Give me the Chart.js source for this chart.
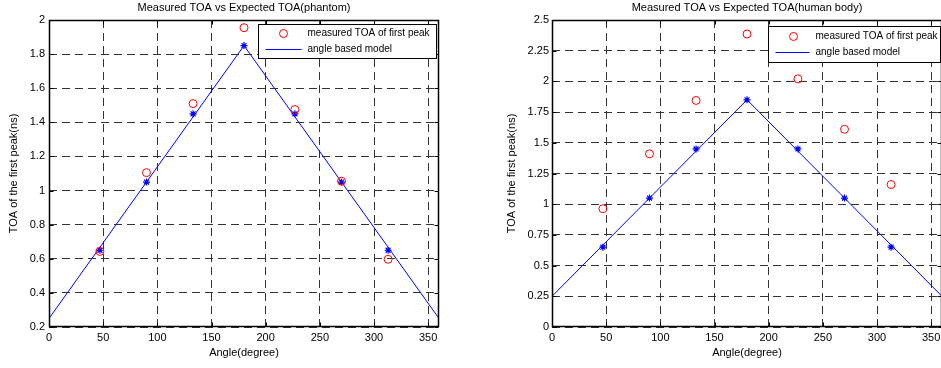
<!DOCTYPE html>
<html>
<head>
<meta charset="utf-8">
<script src="https://cdn.jsdelivr.net/npm/chart.js@4.4.1/dist/chart.umd.min.js"></script>
<style>
  body { margin: 0; background: #fff; width: 941px; height: 368px; overflow: hidden; position: relative; }
  canvas { position: absolute; top: 0; }
  #phantomChart { left: 0; }
  #bodyChart { left: 470px; }
</style>
</head>
<body>
<canvas id="phantomChart" width="470" height="368"></canvas>
<canvas id="bodyChart" width="480" height="368"></canvas>
<script>
// measurement angles (degree)
const angles = [47, 90, 133, 180, 227, 270, 313];
// angle based model (line) and its marks at the measurement angles
const modelAngles = [0, 180, 360];
const modelToa = [0.25, 1.85, 0.25];
const modelMarks = [0.65, 1.05, 1.45, 1.85, 1.45, 1.05, 0.65];
// measured TOA of first peak (ns)
const phantomToa = [0.643, 1.105, 1.51, 1.955, 1.475, 1.055, 0.597];
const bodyToa = [0.963, 1.41, 1.845, 2.386, 2.021, 1.61, 1.16];
// tick labels
const xTicks = [0, 50, 100, 150, 200, 250, 300, 350];
const phantomYTicks = [0.2, 0.4, 0.6, 0.8, 1, 1.2, 1.4, 1.6, 1.8, 2];
const bodyYTicks = [0, 0.25, 0.5, 0.75, 1, 1.25, 1.5, 1.75, 2, 2.25, 2.5];

const FONT = 'Liberation Sans, Arial, sans-serif';
const pairs = (xs, ys) => xs.map((x, i) => ({ x, y: ys[i] }));

// MATLAB style box: frame, inward ticks, boxed legend inside the axes
const matlabBox = {
  id: 'matlabBox',
  afterDraw(chart, args, opts) {
    const { ctx, chartArea: a, scales } = chart;
    const L = Math.round(a.left) + 0.5, R = Math.round(a.right) - 0.5;
    const T = Math.round(a.top) + 0.5, B = Math.round(a.bottom) - 0.5;
    ctx.save();
    ctx.strokeStyle = '#000';
    ctx.lineWidth = 1;
    ctx.beginPath();
    scales.x.ticks.forEach(t => {
      const px = Math.round(scales.x.getPixelForValue(t.value)) + 0.5;
      ctx.moveTo(px, B); ctx.lineTo(px, B - 4);
      ctx.moveTo(px, T); ctx.lineTo(px, T + 4);
    });
    scales.y.ticks.forEach(t => {
      const py = Math.round(scales.y.getPixelForValue(t.value)) + 0.5;
      ctx.moveTo(L, py); ctx.lineTo(L + 4, py);
      ctx.moveTo(R, py); ctx.lineTo(R - 4, py);
    });
    ctx.stroke();
    ctx.lineWidth = 1.5;
    ctx.strokeRect(L, T, R - L, B - T);

    // legend
    const lg = opts.legend;
    const bx = Math.round(a.right - lg.right - lg.width) + 0.5;
    const by = Math.round(a.top + lg.top) + 0.5;
    ctx.fillStyle = '#fff';
    ctx.fillRect(bx, by, lg.width, lg.height);
    ctx.lineWidth = 1;
    ctx.strokeStyle = '#000';
    ctx.strokeRect(bx, by, lg.width, lg.height);
    const ds = chart.data.datasets;
    ctx.font = '10px ' + FONT;
    ctx.textBaseline = 'middle';
    ctx.fillStyle = '#000';
    // item 1: circle marker
    ctx.strokeStyle = '#ff0000';
    ctx.beginPath();
    ctx.arc(bx + 25, by + lg.row1, 4, 0, Math.PI * 2);
    ctx.stroke();
    ctx.fillText(ds[0].label, bx + lg.textX, by + lg.row1);
    // item 2: line
    ctx.strokeStyle = '#0000ff';
    ctx.beginPath();
    ctx.moveTo(bx + 7, by + lg.row2);
    ctx.lineTo(bx + lg.textX - 6, by + lg.row2);
    ctx.stroke();
    ctx.fillText(ds[1].label, bx + lg.textX, by + lg.row2);
    ctx.restore();
  }
};

function makeChart(id, o) {
  return new Chart(document.getElementById(id), {
    type: 'scatter',
    data: {
      datasets: [
        {
          label: 'measured TOA of first peak',
          data: pairs(angles, o.measured),
          borderColor: '#ff0000',
          backgroundColor: 'rgba(0,0,0,0)',
          pointStyle: 'circle',
          pointRadius: 4,
          borderWidth: 1
        },
        {
          label: 'angle based model',
          data: pairs(modelAngles, o.model),
          showLine: true,
          borderColor: '#0000ff',
          backgroundColor: '#0000ff',
          borderWidth: 1,
          pointRadius: 0
        },
        {
          label: 'model marks',
          data: pairs(angles, modelMarks),
          borderColor: '#0000ff',
          backgroundColor: '#0000ff',
          pointStyle: 'star',
          pointRadius: 3.5,
          borderWidth: 1.2
        }
      ]
    },
    options: {
      responsive: false,
      animation: false,
      layout: { padding: { left: 0, right: o.padRight, top: 0, bottom: 0 } },
      plugins: {
        legend: { display: false },
        tooltip: { enabled: false },
        title: {
          display: true,
          text: o.title,
          fullSize: false,
          color: '#000',
          font: { family: FONT, size: 11, weight: 'normal', lineHeight: 1.2 },
          padding: { top: 1, bottom: 5.8 }
        },
        matlabBox: { legend: o.legend }
      },
      scales: {
        x: {
          type: 'linear',
          min: 0,
          max: 360,
          afterBuildTicks: s => { s.ticks = xTicks.map(v => ({ value: v })); },
          afterFit: s => { s.height = 41; },
          ticks: { color: '#000', padding: 4, font: { family: FONT, size: 11 }, maxRotation: 0 },
          grid: { color: '#333', lineWidth: 1, drawTicks: false },
          border: { display: false, dash: [8, 5] },
          title: {
            display: true,
            text: 'Angle(degree)',
            color: '#000',
            font: { family: FONT, size: 11, lineHeight: 1.2 },
            padding: { top: 0, bottom: 8.4 }
          }
        },
        y: {
          type: 'linear',
          min: o.yTicks[0],
          max: o.yTicks[o.yTicks.length - 1],
          afterBuildTicks: s => { s.ticks = o.yTicks.map(v => ({ value: v })); },
          afterFit: s => { s.width = o.yWidth; },
          ticks: { color: '#000', padding: o.yPad, font: { family: FONT, size: 11 }, callback: v => String(v) },
          grid: { color: '#333', lineWidth: 1, drawTicks: false },
          border: { display: false, dash: [8, 5] },
          title: {
            display: true,
            text: 'TOA of the first peak(ns)',
            color: '#000',
            font: { family: FONT, size: 11, lineHeight: 1.2 },
            padding: { top: o.yTitlePad, bottom: 0 }
          }
        }
      }
    },
    plugins: [matlabBox]
  });
}

makeChart('phantomChart', {
  title: 'Measured TOA vs Expected TOA(phantom)',
  measured: phantomToa,
  model: modelToa,
  yTicks: phantomYTicks,
  yWidth: 49,
  yPad: 4,
  yTitlePad: 7.4,
  padRight: 31,
  legend: { right: 3, top: 4, width: 178, height: 34, row1: 9, row2: 25, textX: 49 }
});

makeChart('bodyChart', {
  title: 'Measured TOA vs Expected TOA(human body)',
  measured: bodyToa,
  model: modelToa,
  yTicks: bodyYTicks,
  yWidth: 82,
  yPad: 3,
  yTitlePad: 35.4,
  padRight: 8,
  legend: { right: 2, top: 6, width: 172, height: 36, row1: 10, row2: 26, textX: 47 }
});
</script>
</body>
</html>
